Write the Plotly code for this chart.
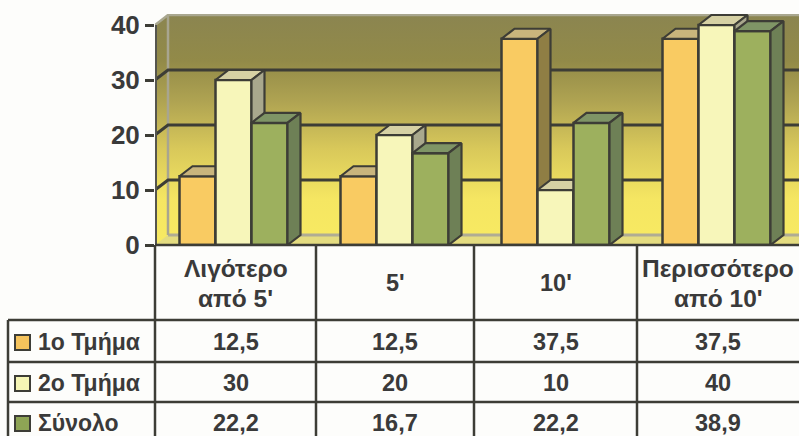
import plotly.graph_objects as go

categories = [["Λιγότερο", "από 5'"], ["5'"], ["10'"], ["Περισσότερο", "από 10'"]]
series_names = ["1ο Τμήμα", "2ο Τμήμα", "Σύνολο"]
dept1 = [12.5, 12.5, 37.5, 37.5]
dept2 = [30, 20, 10, 40]
total = [22.2, 16.7, 22.2, 38.9]
tick_vals = [0, 10, 20, 30, 40]
series = [dept1, dept2, total]

W, H = 799, 436
L_PX, R_PX, T_PX, B_PX = 155, 799, 14, 245
X0, X1, Y0, Y1 = -0.5, 3.5, 0, 42
DX = 13 / 161
DY = 10 / 5.5
BW = 36 / 161
GROUP_SHIFT = -2 / 161
INK = "#3d3d36"
TEXT = "#3a3a3a"
FONT = "Liberation Sans"

front = ["#f9cb62", "#f7f6ba", "#9db05e"]
top = ["#c9b57c", "#d6d1a4", "#7f9566"]
side = ["#8f7e44", "#a9a88d", "#6e8056"]
swatch = ["#f5c35c", "#f5f5b5", "#8ea455"]


def px(x):
    return (x - L_PX) / (R_PX - L_PX)


def py(y):
    return (B_PX - y) / (B_PX - T_PX)


fig = go.Figure()

# walls
wx = [X0, X0, X0 + DX, X1, X1, X0]
wy = [0, 40, 40 + DY, 40 + DY, 0, 0]
fig.add_trace(go.Scatter(
    x=wx, y=wy, mode="lines", line=dict(width=0), fill="toself",
    fillgradient=dict(type="vertical", colorscale=[
        [0, "#f8ea62"], [0.2, "#f5e662"], [0.42, "#d8c85a"],
        [0.62, "#b0a452"], [0.8, "#928a48"], [1, "#8b8550"]]),
    hoverinfo="skip", showlegend=False))
# floor
fig.add_trace(go.Scatter(
    x=[X0, X0 + DX, X1, X1, X0], y=[0, DY, DY, 0, 0], mode="lines", line=dict(width=0),
    fill="toself", fillcolor="#e4dc80", hoverinfo="skip", showlegend=False))
fig.add_trace(go.Scatter(
    x=[X0 + DX, X1], y=[DY, DY], mode="lines", line=dict(color="#b0ac94", width=3),
    hoverinfo="skip", showlegend=False))
# wall edges
fig.add_trace(go.Scatter(
    x=[X0 + DX, X0 + DX], y=[DY, 40 + DY], mode="lines", line=dict(color="#a8a590", width=2.5),
    hoverinfo="skip", showlegend=False))
fig.add_trace(go.Scatter(
    x=[X0, X0 + DX, X1], y=[40, 40 + DY, 40 + DY], mode="lines", line=dict(color="#a9a78f", width=2.5),
    hoverinfo="skip", showlegend=False))
# gridlines
for v in tick_vals[1:-1]:
    fig.add_trace(go.Scatter(
        x=[X0, X0 + DX, X1], y=[v, v + DY, v + DY], mode="lines", line=dict(color=INK, width=3),
        hoverinfo="skip", showlegend=False))
# front axis post
fig.add_trace(go.Scatter(x=[X0, X0], y=[tick_vals[0], tick_vals[-1]], mode="lines",
                         line=dict(color="#55554e", width=4), hoverinfo="skip", showlegend=False, cliponaxis=False))

# bars: one overlaid axis pair per series, so later series hide earlier depth faces
for s, vals in enumerate(series):
    suffix = str(s + 2)
    xa, ya = "x" + suffix, "y" + suffix
    lefts = [i + GROUP_SHIFT + (s - 1.5) * BW for i in range(len(vals))]
    fig.add_trace(go.Bar(
        x=[l + BW / 2 for l in lefts], y=vals, width=BW, xaxis=xa, yaxis=ya,
        marker=dict(color=front[s], line=dict(color=INK, width=2.5)),
        name=series_names[s], hoverinfo="skip", showlegend=False))
    for l, v in zip(lefts, vals):
        r = l + BW
        fig.add_trace(go.Scatter(
            x=[l, l + DX, r + DX, r, l], y=[v, v + DY, v + DY, v, v], mode="lines",
            xaxis=xa, yaxis=ya, fill="toself", fillcolor=top[s],
            line=dict(color=INK, width=2.2), hoverinfo="skip", showlegend=False))
        fig.add_trace(go.Scatter(
            x=[r, r + DX, r + DX, r, r], y=[0, DY, v + DY, v, 0], mode="lines",
            xaxis=xa, yaxis=ya, fill="toself", fillcolor=side[s],
            line=dict(color=INK, width=2.2), hoverinfo="skip", showlegend=False))

shapes, annotations = [], []


def hline(y, x0, x1):
    shapes.append(dict(type="line", xref="paper", yref="paper", x0=px(x0), x1=px(x1), y0=py(y), y1=py(y),
                       line=dict(color=INK, width=2.5)))


def vline(x, y0, y1):
    shapes.append(dict(type="line", xref="paper", yref="paper", x0=px(x), x1=px(x), y0=py(y0), y1=py(y1),
                       line=dict(color=INK, width=2.5)))


def text(x, y, s, anchor="center", size=23.5):
    annotations.append(dict(xref="paper", yref="paper", x=px(x), y=py(y), text=f"<b>{s}</b>", showarrow=False,
                            xanchor=anchor, yanchor="middle", xshift=0,
                            font=dict(family=FONT, size=size, color=TEXT)))


col_edges = [155, 316, 474, 637, 799]
row_edges = [245, 320, 362, 402, 436]
row_centers = [342, 383, 423]

hline(245, 155, 799)
for y in row_edges[1:-1]:
    hline(y, 8, 799)
vline(8, 320, 436)
for x in col_edges[:-1]:
    vline(x, 245, 436)

for c, lines in enumerate(categories):
    cx = (col_edges[c] + col_edges[c + 1]) / 2
    if len(lines) == 1:
        text(cx, 283, lines[0])
    else:
        text(cx, 268, lines[0], size=24.5)
        text(cx, 298, lines[1], size=24.5)
    for r, vals in enumerate(series):
        text(cx, row_centers[r], str(vals[c]).replace(".", ","))

for r, name in enumerate(series_names):
    y = row_centers[r]
    shapes.append(dict(type="rect", xref="paper", yref="paper", x0=px(15), x1=px(30), y0=py(y - 7), y1=py(y + 8),
                       fillcolor=swatch[r], line=dict(color=INK, width=2)))
    text(36, y, name, anchor="left", size=23)

hidden = dict(visible=False, range=[X0, X1])
hidden_y = dict(visible=False, range=[Y0, Y1])
fig.update_layout(
    width=W, height=H, autosize=False,
    margin=dict(l=L_PX, r=W - R_PX, t=T_PX, b=H - B_PX, pad=0),
    paper_bgcolor="#fdfdfb", plot_bgcolor="rgba(0,0,0,0)",
    showlegend=False, barmode="overlay",
    xaxis=dict(range=[X0, X1], showticklabels=False, ticks="", showgrid=False, zeroline=False, fixedrange=True),
    yaxis=dict(range=[Y0, Y1], tickvals=tick_vals, showgrid=False, zeroline=False,
               ticks="outside", ticklen=9, tickwidth=2.5, tickcolor=INK,
               tickfont=dict(family=FONT, size=26, color=TEXT, weight="bold"),
               showline=False, fixedrange=True),
    xaxis2=dict(overlaying="x", **hidden), yaxis2=dict(overlaying="y", **hidden_y),
    xaxis3=dict(overlaying="x", **hidden), yaxis3=dict(overlaying="y", **hidden_y),
    xaxis4=dict(overlaying="x", **hidden), yaxis4=dict(overlaying="y", **hidden_y),
    shapes=shapes, annotations=annotations,
)
fig.write_html("out.html", config=dict(displayModeBar=False),
               post_script="document.body.style.margin='0';document.documentElement.style.overflow='hidden';")
